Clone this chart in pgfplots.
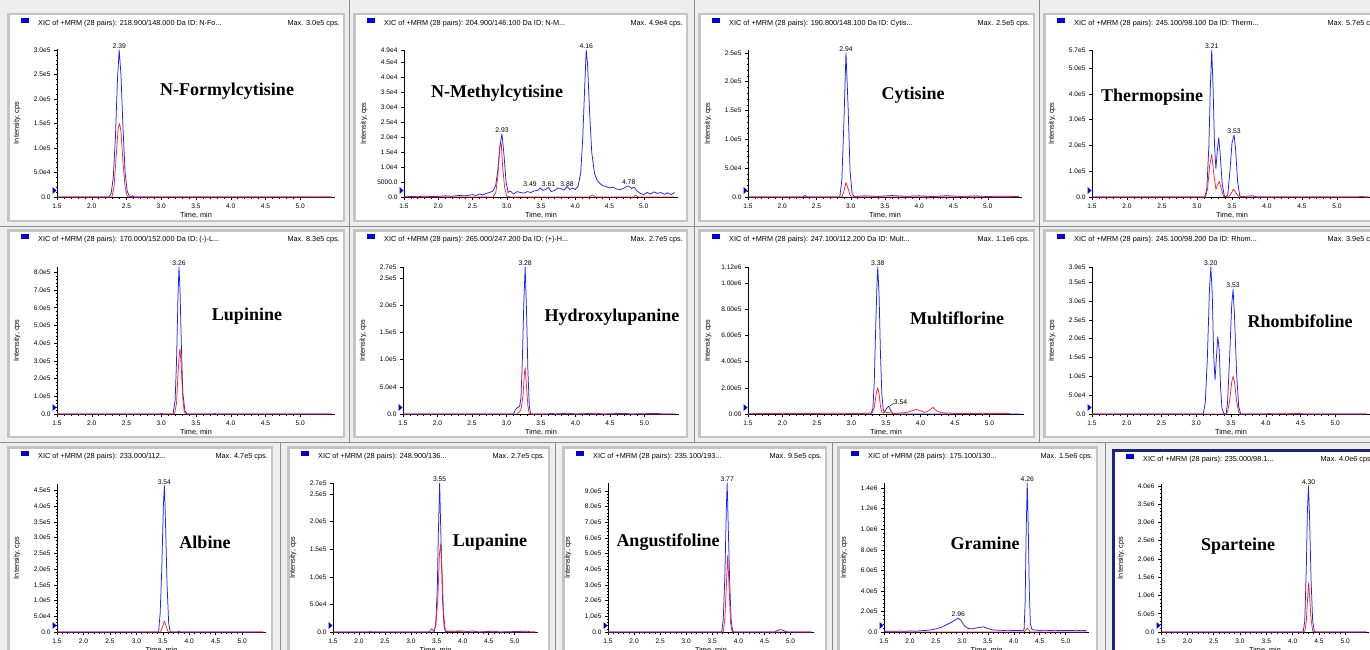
\documentclass[border=0pt]{standalone}
\usepackage{pgfplots}
\pgfplotsset{compat=1.18}
\usepackage{fontspec}
\setmainfont{Liberation Sans}
\newfontfamily\namefont{Liberation Serif}
\definecolor{bg}{HTML}{EEEEEE}
\definecolor{frm}{HTML}{C4C4C4}
\definecolor{sep}{HTML}{8C8C8C}
\definecolor{sel}{HTML}{1A2580}
\definecolor{hdrblue}{HTML}{0000DD}
\definecolor{trblue}{HTML}{1E1EFF}
\definecolor{trred}{HTML}{FF2424}
\newcommand{\hdrfont}{\fontsize{7.3}{8}\selectfont}
\newcommand{\tkfont}{\fontsize{6.6}{7}\selectfont}
\newcommand{\pkfont}{\fontsize{6.8}{7}\selectfont}

\pgfplotsset{chrom/.style={
  scale only axis, anchor=south west, clip=false,
  axis lines*=left, axis line style={-,black,line width=0.7pt},
  xmin=1.5, xmax=5.5, ymin=0,
  xtick={1.5,2.0,2.5,3.0,3.5,4.0,4.5,5.0},
  xticklabels={1.5,2.0,2.5,3.0,3.5,4.0,4.5,5.0},
  minor x tick num=4, minor y tick num=4,
  tick align=outside, major tick length=3pt, minor tick length=1.5pt,
  every tick/.style={black,line width=0.5pt},
  tick label style={font=\tkfont},
  scaled y ticks=false, scaled x ticks=false,
  every axis plot/.append style={line width=0.75pt,line join=round,mark=none},
}}

\newcommand{\axlabels}{%
  \node[font=\hdrfont,rotate=90] at ([xshift=-40pt]rel axis cs:0,0.5) {Intensity, cps};
  \node[font=\hdrfont] at ([yshift=-18pt]rel axis cs:0.5,0) {Time, min};
  \fill[hdrblue] ([xshift=-4.5pt,yshift=3pt]rel axis cs:0,0) -- ([xshift=-4.5pt,yshift=10pt]rel axis cs:0,0) -- ([xshift=-0.5pt,yshift=6.5pt]rel axis cs:0,0) -- cycle;}

\newcommand{\pframe}[5]{%
  \begin{scope}[x=1pt,y=-1pt]
    \fill[#5] (#1,#2) rectangle (#3,#4);
    \fill[white] ({#1+2.5},{#2+2.5}) rectangle ({#3-2.5},{#4-2.5});
  \end{scope}}
\newcommand{\phead}[5]{%
  \begin{scope}[x=1pt,y=-1pt]
    \fill[hdrblue] ({#1+14},{#2+5}) rectangle ({#1+22},{#2+10});
    \node[anchor=west,font=\hdrfont,inner sep=0] at ({#1+31},{#2+10.3}) {#4};
    \node[anchor=east,font=\hdrfont,inner sep=0] at ({#3-5},{#2+10.3}) {#5};
  \end{scope}}
\newcommand{\pname}[3]{\node[font=\namefont\bfseries\fontsize{18}{20}\selectfont] at (#1pt,-#2pt) {#3};}

\begin{document}
\begin{tikzpicture}
\useasboundingbox (0,0) rectangle (1370pt,-650pt);
\clip (0,0) rectangle (1370pt,-650pt);
\fill[bg] (0,0) rectangle (1370pt,-650pt);
\begin{scope}[x=1pt,y=-1pt]
  \draw[sep,line width=1pt] (349,0) -- (349,442) (694,0) -- (694,442) (1039,0) -- (1039,442);
  \draw[sep,line width=1pt] (0,226) -- (1370,226) (0,442) -- (1370,442);
  \draw[sep,line width=1pt] (280,442) -- (280,650) (555,442) -- (555,650) (832,442) -- (832,650) (1105,442) -- (1105,650);
\end{scope}

% ---------- frames ----------
\pframe{7}{13}{345}{222}{frm}
\pframe{353}{13}{688}{222}{frm}
\pframe{698}{13}{1035}{222}{frm}
\pframe{1043}{13}{1385}{222}{frm}
\pframe{7}{229}{345}{438}{frm}
\pframe{353}{229}{688}{438}{frm}
\pframe{698}{229}{1035}{438}{frm}
\pframe{1043}{229}{1385}{438}{frm}
\pframe{7}{446}{273}{660}{frm}
\pframe{287}{446}{550}{660}{frm}
\pframe{562}{446}{827}{660}{frm}
\pframe{837}{446}{1098}{660}{frm}
\pframe{1112}{449}{1378}{660}{sel}

\phead{7}{13}{345}{XIC of +MRM (28 pairs): 218.900/148.000 Da ID: N-Fo...}{Max. 3.0e5 cps.}
\phead{353}{13}{688}{XIC of +MRM (28 pairs): 204.900/146.100 Da ID: N-M...}{Max. 4.9e4 cps.}
\phead{698}{13}{1035}{XIC of +MRM (28 pairs): 190.800/148.100 Da ID: Cytis...}{Max. 2.5e5 cps.}
\phead{1043}{13}{1385}{XIC of +MRM (28 pairs): 245.100/98.100 Da ID: Therm...}{Max. 5.7e5 cps.}
\phead{7}{229}{345}{XIC of +MRM (28 pairs): 170.000/152.000 Da ID: (-)-L...}{Max. 8.3e5 cps.}
\phead{353}{229}{688}{XIC of +MRM (28 pairs): 265.000/247.200 Da ID: (+)-H...}{Max. 2.7e5 cps.}
\phead{698}{229}{1035}{XIC of +MRM (28 pairs): 247.100/112.200 Da ID: Mult...}{Max. 1.1e6 cps.}
\phead{1043}{229}{1385}{XIC of +MRM (28 pairs): 245.100/98.200 Da ID: Rhom...}{Max. 3.9e5 cps.}
\phead{7}{446}{273}{XIC of +MRM (28 pairs): 233.000/112...}{Max. 4.7e5 cps.}
\phead{287}{446}{550}{XIC of +MRM (28 pairs): 248.900/136...}{Max. 2.7e5 cps.}
\phead{562}{446}{827}{XIC of +MRM (28 pairs): 235.100/193...}{Max. 9.5e5 cps.}
\phead{837}{446}{1098}{XIC of +MRM (28 pairs): 175.100/130...}{Max. 1.5e6 cps.}
\phead{1112}{449}{1378}{XIC of +MRM (28 pairs): 235.000/98.1...}{Max. 4.0e6 cps.}

% ---------- P1 N-Formylcytisine ----------
\begin{axis}[chrom, at={(57pt,-197pt)}, width=278pt, height=148pt, ymax=302000,
  ytick={0,50000,100000,150000,200000,250000,300000},
  yticklabels={0.0,5.0e4,1.0e5,1.5e5,2.0e5,2.5e5,3.0e5}]
\addplot[trblue] coordinates {(1.5,0)(2.25,0)(2.28,8000)(2.31,40000)(2.34,120000)(2.37,240000)(2.395,300000)(2.42,250000)(2.45,140000)(2.48,50000)(2.51,12000)(2.54,2000)(2.57,0)(2.59,3000)(2.61,0)(5.45,0)};
\addplot[trred] coordinates {(1.5,0)(2.29,0)(2.32,20000)(2.35,80000)(2.38,140000)(2.40,150000)(2.42,135000)(2.45,70000)(2.48,20000)(2.51,2000)(2.53,0)(5.45,0)};
\node[font=\pkfont,anchor=south,inner sep=1pt] at (axis cs:2.395,300000) {2.39};
\axlabels
\end{axis}

% ---------- P2 N-Methylcytisine ----------
\begin{axis}[chrom, at={(404pt,-197pt)}, width=274pt, height=147pt, ymax=49000,
  ytick={0,5000,10000,15000,20000,25000,30000,35000,40000,45000,49000},
  yticklabels={0.0,5000.0,1.0e4,1.5e4,2.0e4,2.5e4,3.0e4,3.5e4,4.0e4,4.5e4,4.9e4}]
\addplot[trblue] coordinates {(1.5,0)(1.6,200)(1.7,100)(1.8,300)(1.9,150)(2.0,200)(2.1,400)(2.2,250)(2.3,500)(2.4,400)(2.5,800)(2.55,500)(2.6,1000)(2.65,700)(2.7,1200)(2.75,1500)(2.8,2000)(2.84,4000)(2.87,9000)(2.90,17000)(2.93,21000)(2.96,14000)(2.99,5000)(3.02,1500)(3.05,2000)(3.1,1000)(3.15,1800)(3.2,1500)(3.25,1300)(3.3,1800)(3.35,1500)(3.4,2000)(3.45,2200)(3.49,3000)(3.53,2200)(3.57,2500)(3.61,3200)(3.65,1800)(3.7,2200)(3.75,3000)(3.8,2700)(3.84,2300)(3.88,3500)(3.92,2500)(3.96,3000)(4.0,2500)(4.04,3500)(4.08,8000)(4.11,20000)(4.14,38000)(4.16,49000)(4.18,44000)(4.21,28000)(4.24,15000)(4.28,8000)(4.32,5500)(4.36,4500)(4.4,3800)(4.45,3500)(4.5,3000)(4.55,3300)(4.6,2700)(4.65,2500)(4.7,2800)(4.75,3500)(4.78,3700)(4.82,2800)(4.86,3300)(4.9,2000)(4.95,1200)(5.0,800)(5.05,1500)(5.1,1000)(5.15,1700)(5.2,1200)(5.25,1500)(5.3,900)(5.35,1400)(5.4,800)(5.45,1500)};
\addplot[trred] coordinates {(1.5,0)(2.8,0)(2.84,1500)(2.87,7000)(2.90,17000)(2.92,18000)(2.94,10000)(2.97,3000)(3.0,300)(3.05,0)(4.2,0)(4.25,700)(4.3,0)(4.85,0)(4.88,600)(4.92,0)(5.45,0)};
\node[font=\pkfont,anchor=south,inner sep=1pt] at (axis cs:2.93,21000) {2.93};
\node[font=\pkfont,anchor=south,inner sep=1pt] at (axis cs:4.16,49000) {4.16};
\node[font=\pkfont,inner sep=0pt] at (axis cs:3.34,4400) {3.49};
\node[font=\pkfont,inner sep=0pt] at (axis cs:3.61,4400) {3.61};
\node[font=\pkfont,inner sep=0pt] at (axis cs:3.88,4400) {3.88};
\node[font=\pkfont,inner sep=0pt] at (axis cs:4.78,5000) {4.78};
\axlabels
\end{axis}

% ---------- P3 Cytisine ----------
\begin{axis}[chrom, at={(748pt,-197pt)}, width=274pt, height=147pt, ymax=255000,
  ytick={0,50000,100000,150000,200000,250000},
  yticklabels={0.0,5.0e4,1.0e5,1.5e5,2.0e5,2.5e5}]
\addplot[trblue] coordinates {(1.5,0)(2.3,0)(2.33,2500)(2.37,0)(2.84,0)(2.87,30000)(2.90,130000)(2.93,250000)(2.96,160000)(2.99,45000)(3.02,6000)(3.05,1000)(3.2,2000)(3.4,1000)(3.6,2500)(3.8,1200)(4.0,2000)(4.2,800)(4.4,2200)(4.6,1000)(4.8,1800)(5.0,900)(5.2,1500)(5.45,800)};
\addplot[trred] coordinates {(1.5,0)(2.87,0)(2.90,10000)(2.93,25000)(2.96,15000)(2.99,3000)(3.02,0)(5.45,0)};
\node[font=\pkfont,anchor=south,inner sep=1pt] at (axis cs:2.93,250000) {2.94};
\axlabels
\end{axis}

% ---------- P4 Thermopsine ----------
\begin{axis}[chrom, at={(1092pt,-197pt)}, width=280pt, height=147pt, ymax=570000,
  ytick={0,100000,200000,300000,400000,500000,570000},
  yticklabels={0.0,1.0e5,2.0e5,3.0e5,4.0e5,5.0e5,5.7e5}]
\addplot[trblue] coordinates {(1.5,0)(3.11,0)(3.14,30000)(3.17,200000)(3.19,420000)(3.21,570000)(3.23,420000)(3.25,200000)(3.27,110000)(3.29,180000)(3.31,230000)(3.33,170000)(3.36,50000)(3.39,5000)(3.42,0)(3.44,10000)(3.47,100000)(3.50,210000)(3.53,240000)(3.55,190000)(3.58,60000)(3.61,5000)(3.64,0)(5.45,0)};
\addplot[trred] coordinates {(1.5,0)(3.12,0)(3.15,30000)(3.18,120000)(3.21,165000)(3.24,90000)(3.27,30000)(3.29,45000)(3.32,60000)(3.35,30000)(3.38,2000)(3.45,0)(3.48,10000)(3.52,30000)(3.56,15000)(3.60,0)(3.7,3000)(3.8,5000)(3.85,0)(5.3,0)(5.35,3000)(5.4,0)(5.45,0)};
\node[font=\pkfont,anchor=south,inner sep=1pt] at (axis cs:3.21,570000) {3.21};
\node[font=\pkfont,anchor=south,inner sep=1.5pt] at (axis cs:3.53,240000) {3.53};
\axlabels
\end{axis}

% ---------- P5 Lupinine ----------
\begin{axis}[chrom, at={(57pt,-414pt)}, width=278pt, height=147pt, ymax=830000,
  ytick={0,100000,200000,300000,400000,500000,600000,700000,800000},
  yticklabels={0.0,1.0e5,2.0e5,3.0e5,4.0e5,5.0e5,6.0e5,7.0e5,8.0e5}]
\addplot[trblue] coordinates {(1.5,0)(2.98,0)(3.0,4000)(3.03,0)(3.17,0)(3.20,80000)(3.22,300000)(3.24,650000)(3.255,830000)(3.27,700000)(3.29,380000)(3.31,120000)(3.34,20000)(3.37,0)(3.75,0)(3.77,3000)(3.79,0)(5.45,0)};
\addplot[trred] coordinates {(1.5,0)(3.19,0)(3.22,60000)(3.24,220000)(3.26,340000)(3.27,370000)(3.29,250000)(3.31,90000)(3.33,15000)(3.35,0)(5.45,0)};
\node[font=\pkfont,anchor=south,inner sep=1pt] at (axis cs:3.255,830000) {3.26};
\axlabels
\end{axis}

% ---------- P6 Hydroxylupanine ----------
\begin{axis}[chrom, at={(403pt,-414pt)}, width=276pt, height=147pt, ymax=270000,
  ytick={0,50000,100000,150000,200000,250000,270000},
  yticklabels={0.0,5.0e4,1.0e5,1.5e5,2.0e5,2.5e5,2.7e5}]
\addplot[trblue] coordinates {(1.5,0)(3.10,0)(3.13,8000)(3.16,12000)(3.19,14000)(3.21,30000)(3.23,100000)(3.25,200000)(3.27,270000)(3.29,190000)(3.31,80000)(3.33,15000)(3.35,0)(3.6,0)(3.65,1500)(3.7,0)(3.9,1500)(4.0,0)(4.3,1500)(4.4,0)(4.7,1200)(4.8,0)(5.2,1200)(5.25,0)(5.45,0)};
\addplot[trred] coordinates {(1.5,0)(3.15,0)(3.18,3000)(3.21,8000)(3.24,35000)(3.26,75000)(3.27,85000)(3.29,50000)(3.31,15000)(3.33,0)(5.45,0)};
\node[font=\pkfont,anchor=south,inner sep=1pt] at (axis cs:3.27,270000) {3.28};
\axlabels
\end{axis}

% ---------- P7 Multiflorine ----------
\begin{axis}[chrom, at={(748pt,-414pt)}, width=276pt, height=147pt, ymax=1120000,
  ytick={0,200000,400000,600000,800000,1000000,1120000},
  yticklabels={0.00,2.00e5,4.00e5,6.00e5,8.00e5,1.00e6,1.12e6}]
\addplot[trblue] coordinates {(1.5,0)(3.28,0)(3.31,40000)(3.33,250000)(3.35,650000)(3.37,1000000)(3.38,1120000)(3.40,900000)(3.42,450000)(3.44,150000)(3.46,30000)(3.48,15000)(3.51,45000)(3.54,60000)(3.57,25000)(3.60,3000)(3.63,0)(5.45,0)};
\addplot[trred] coordinates {(1.5,0)(1.6,4000)(1.8,3000)(2.0,5000)(2.2,3000)(2.4,4000)(2.6,5000)(2.8,6000)(3.0,4000)(3.2,5000)(3.30,8000)(3.33,50000)(3.36,160000)(3.38,200000)(3.40,150000)(3.42,60000)(3.44,15000)(3.47,8000)(3.52,12000)(3.56,8000)(3.62,4000)(3.7,8000)(3.8,12000)(3.88,25000)(3.94,35000)(4.0,25000)(4.06,12000)(4.12,25000)(4.18,50000)(4.23,25000)(4.3,10000)(4.4,8000)(4.5,4000)(4.7,3000)(4.9,5000)(5.1,3000)(5.3,4000)};
\node[font=\pkfont,anchor=south,inner sep=1pt] at (axis cs:3.38,1120000) {3.38};
\draw[black,line width=0.4pt] (axis cs:3.56,62000) -- (axis cs:3.61,82000);
\node[font=\pkfont,inner sep=0pt] at (axis cs:3.71,92000) {3.54};
\axlabels
\end{axis}

% ---------- P8 Rhombifoline ----------
\begin{axis}[chrom, at={(1092pt,-414pt)}, width=278pt, height=147pt, ymax=390000,
  ytick={0,50000,100000,150000,200000,250000,300000,350000,390000},
  yticklabels={0.0,5.0e4,1.0e5,1.5e5,2.0e5,2.5e5,3.0e5,3.5e5,3.9e5}]
\addplot[trblue] coordinates {(1.5,0)(3.10,0)(3.13,30000)(3.16,150000)(3.19,330000)(3.21,390000)(3.23,320000)(3.25,160000)(3.27,90000)(3.29,150000)(3.31,205000)(3.33,170000)(3.35,70000)(3.37,15000)(3.40,0)(3.43,0)(3.45,30000)(3.48,150000)(3.51,290000)(3.53,330000)(3.55,260000)(3.58,110000)(3.61,20000)(3.64,0)(5.45,0)};
\addplot[trred] coordinates {(1.5,0)(3.42,0)(3.45,5000)(3.48,35000)(3.51,85000)(3.53,100000)(3.55,85000)(3.58,35000)(3.61,5000)(3.64,0)(4.0,0)(4.05,1500)(4.1,0)(4.5,1500)(4.55,0)(5.45,0)};
\node[font=\pkfont,anchor=south,inner sep=1pt] at (axis cs:3.21,390000) {3.20};
\node[font=\pkfont,anchor=south,inner sep=1.5pt] at (axis cs:3.53,330000) {3.53};
\axlabels
\end{axis}

% ---------- P9 Albine ----------
\begin{axis}[chrom, at={(57pt,-632pt)}, width=209pt, height=148pt, xmax=5.45, ymax=470000,
  ytick={0,50000,100000,150000,200000,250000,300000,350000,400000,450000},
  yticklabels={0.0,5.0e4,1.0e5,1.5e5,2.0e5,2.5e5,3.0e5,3.5e5,4.0e5,4.5e5}]
\addplot[trblue] coordinates {(1.5,0)(3.42,0)(3.45,60000)(3.48,200000)(3.51,400000)(3.53,465000)(3.55,350000)(3.58,150000)(3.61,30000)(3.64,0)(3.78,0)(3.80,2500)(3.82,0)(5.4,0)};
\addplot[trred] coordinates {(1.5,0)(3.46,0)(3.50,20000)(3.53,35000)(3.56,20000)(3.60,0)(5.4,0)};
\node[font=\pkfont,anchor=south,inner sep=1pt] at (axis cs:3.53,465000) {3.54};
\axlabels
\end{axis}

% ---------- P10 Lupanine ----------
\begin{axis}[chrom, at={(333pt,-632pt)}, width=205pt, height=149pt, xmax=5.45, ymax=270000,
  ytick={0,50000,100000,150000,200000,250000,270000},
  yticklabels={0.0,5.0e4,1.0e5,1.5e5,2.0e5,2.5e5,2.7e5}]
\addplot[trblue] coordinates {(1.5,0)(3.45,0)(3.48,15000)(3.51,80000)(3.53,180000)(3.555,270000)(3.58,170000)(3.61,60000)(3.64,10000)(3.67,0)(3.75,2000)(3.85,0)(3.95,2000)(4.1,1000)(4.2,2000)(4.3,0)(4.6,1500)(4.7,0)(5.25,1500)(5.3,0)(5.4,0)};
\addplot[trred] coordinates {(1.5,0)(2.2,0)(2.22,1500)(2.24,0)(3.35,0)(3.40,6000)(3.44,2000)(3.48,10000)(3.52,60000)(3.55,140000)(3.575,160000)(3.60,110000)(3.63,35000)(3.66,5000)(3.70,0)(3.9,2000)(4.0,0)(5.4,0)};
\node[font=\pkfont,anchor=south,inner sep=1pt] at (axis cs:3.555,270000) {3.55};
\axlabels
\end{axis}

% ---------- P11 Angustifoline ----------
\begin{axis}[chrom, at={(608pt,-632pt)}, width=206pt, height=149pt, xmax=5.45, ymax=950000,
  ytick={0,100000,200000,300000,400000,500000,600000,700000,800000,900000},
  yticklabels={0.0,1.0e5,2.0e5,3.0e5,4.0e5,5.0e5,6.0e5,7.0e5,8.0e5,9.0e5}]
\addplot[trblue] coordinates {(1.5,0)(3.68,0)(3.71,80000)(3.74,350000)(3.77,800000)(3.785,950000)(3.80,750000)(3.83,350000)(3.86,80000)(3.89,5000)(3.92,0)(4.7,0)(4.75,10000)(4.8,15000)(4.85,12000)(4.9,4000)(4.95,0)(5.4,0)};
\addplot[trred] coordinates {(1.5,0)(3.71,0)(3.74,80000)(3.77,300000)(3.795,490000)(3.82,300000)(3.85,60000)(3.88,0)(5.4,0)};
\node[font=\pkfont,anchor=south,inner sep=1pt] at (axis cs:3.785,950000) {3.77};
\axlabels
\end{axis}

% ---------- P12 Gramine ----------
\begin{axis}[chrom, at={(884pt,-632pt)}, width=205pt, height=149pt, xmax=5.45, ymax=1450000,
  ytick={0,200000,400000,600000,800000,1000000,1200000,1400000},
  yticklabels={0.0,2.0e5,4.0e5,6.0e5,8.0e5,1.0e6,1.2e6,1.4e6}]
\addplot[trblue] coordinates {(1.5,5000)(1.6,8000)(1.7,6000)(1.8,9000)(1.9,7000)(2.0,10000)(2.1,8000)(2.2,12000)(2.3,15000)(2.4,20000)(2.5,30000)(2.6,45000)(2.7,70000)(2.8,95000)(2.88,120000)(2.93,135000)(2.98,115000)(3.05,60000)(3.12,35000)(3.2,30000)(3.28,40000)(3.35,45000)(3.42,50000)(3.5,35000)(3.6,20000)(3.7,18000)(3.8,15000)(3.9,17000)(4.0,14000)(4.1,15000)(4.18,12000)(4.20,30000)(4.22,300000)(4.24,1000000)(4.26,1450000)(4.28,1000000)(4.30,400000)(4.32,80000)(4.35,25000)(4.4,20000)(4.5,15000)(4.6,18000)(4.7,14000)(4.8,17000)(4.9,13000)(5.0,16000)(5.1,14000)(5.2,17000)(5.3,13000)(5.4,15000)};
\addplot[trred] coordinates {(1.5,0)(4.20,0)(4.23,20000)(4.26,40000)(4.29,20000)(4.32,0)(5.4,0)};
\node[font=\pkfont,anchor=south,inner sep=1.5pt] at (axis cs:2.93,135000) {2.96};
\node[font=\pkfont,anchor=south,inner sep=1pt] at (axis cs:4.26,1450000) {4.26};
\axlabels
\end{axis}

% ---------- P13 Sparteine ----------
\begin{axis}[chrom, at={(1161pt,-632pt)}, width=208pt, height=148pt, xmax=5.45, ymax=4050000,
  ytick={0,500000,1000000,1500000,2000000,2500000,3000000,3500000,4000000},
  yticklabels={0.0,5.0e5,1.0e6,1.5e6,2.0e6,2.5e6,3.0e6,3.5e6,4.0e6}]
\addplot[trblue] coordinates {(1.5,0)(4.20,0)(4.23,300000)(4.26,1800000)(4.28,3300000)(4.30,4000000)(4.32,3200000)(4.35,1400000)(4.38,300000)(4.41,20000)(4.44,0)(5.4,0)};
\addplot[trred] coordinates {(1.5,0)(4.23,0)(4.26,300000)(4.29,1100000)(4.305,1350000)(4.32,1000000)(4.35,350000)(4.38,30000)(4.40,0)(5.4,0)};
\node[font=\pkfont,anchor=south,inner sep=1pt] at (axis cs:4.30,4000000) {4.30};
\axlabels
\end{axis}

% ---------- compound names ----------
\pname{227}{91}{N-Formylcytisine}
\pname{497}{93}{N-Methylcytisine}
\pname{913}{95}{Cytisine}
\pname{1152}{97}{Thermopsine}
\pname{247}{316}{Lupinine}
\pname{612}{317}{Hydroxylupanine}
\pname{957}{318}{Multiflorine}
\pname{1300}{321}{Rhombifoline}
\pname{205}{542}{Albine}
\pname{490}{542}{Lupanine}
\pname{668}{542}{Angustifoline}
\pname{985}{543}{Gramine}
\pname{1238}{546}{Sparteine}
\end{tikzpicture}
\end{document}
